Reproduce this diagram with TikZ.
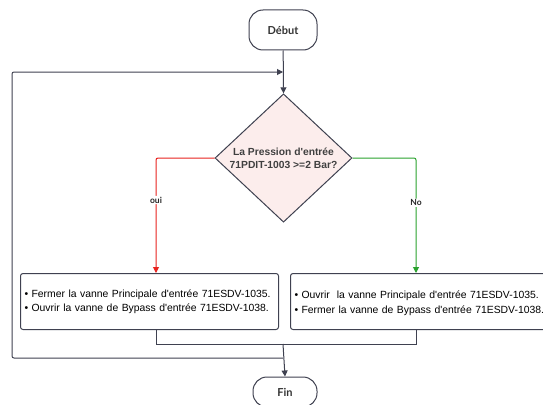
\documentclass[tikz,border=0pt]{standalone}
\usepackage{fontspec}
\setmainfont{Liberation Sans}[Ligatures=TeXOff]
\newfontfamily\latofont{Lato}
\usetikzlibrary{arrows.meta,shapes.geometric}
\definecolor{linegray}{HTML}{3F4150}
\definecolor{redline}{HTML}{E8231F}
\definecolor{greenline}{HTML}{2AA22E}
\definecolor{pinkfill}{HTML}{FCEDEC}
\begin{document}
\begin{tikzpicture}[x=1pt,y=-1pt,
  term/.style={draw=linegray,line width=1pt,rounded corners=14pt,minimum width=68pt,minimum height=40pt,font=\latofont\bfseries\fontsize{11}{13}\selectfont,text=black!80},
  proc/.style={draw=linegray,line width=1pt,rounded corners=2.5pt,minimum height=56pt,align=left,font=\fontsize{10.4}{14.5}\selectfont,anchor=north west,inner xsep=4pt},
  conn/.style={draw=linegray,line width=1pt},
  tip/.style={-{Triangle[length=6pt,width=6pt]}},
  lbl/.style={fill=white,inner sep=1pt,font=\latofont\bfseries\fontsize{8.5}{10}\selectfont,text=black!85}]
\useasboundingbox (0,0) rectangle (543,404);
\fill[white] (0,0) rectangle (543,404);
\node[term] (debut) at (283,30) {Début};
\node[term,minimum width=64pt,minimum height=30pt] (fin) at (285,392) {Fin};
\node[diamond,draw=linegray,line width=1pt,fill=pinkfill,minimum width=137pt,minimum height=118pt,inner sep=0pt,align=center,font=\bfseries\fontsize{10.3}{13}\selectfont,text=black!75] (dec) at (283.5,158) {La Pression d'entrée\\71PDIT-1003 >=2 Bar?};
\node[proc,minimum width=258pt,text width=250pt] (left) at (20,273) {• Fermer la vanne Principale d'entrée 71ESDV-1035.\\• Ouvrir la vanne de Bypass d'entrée 71ESDV-1038.};
\node[proc,minimum width=262pt,text width=254pt] (right) at (290,273) {\\[-3pt]• Ouvrir\ \ la vanne Principale d'entrée 71ESDV-1035.\\• Fermer la vanne de Bypass d'entrée 71ESDV-1038.};
\coordinate (loopin) at (283,72);
\coordinate (join) at (283,344);
\coordinate (join2) at (283,358);
\draw[conn,tip] (debut) -- (dec.north);
\draw[conn,tip,rounded corners=2pt] (join2) -- (12,358) -- (12,72) -- (loopin);
\draw[conn,draw=redline,line width=1pt,tip,rounded corners=2pt] (dec.west) -- (156,158) -- (156,273) node[lbl,pos=0.365] {oui};
\draw[conn,draw=greenline,line width=1pt,tip,rounded corners=2pt] (dec.east) -- (416,158) -- (416,273) node[lbl,pos=0.39] {No};
\draw[conn] (156,329) -- (156,344) -- (416,344) -- (416,329);
\draw[conn,tip] (join) -- (fin.north);
\end{tikzpicture}
\end{document}
